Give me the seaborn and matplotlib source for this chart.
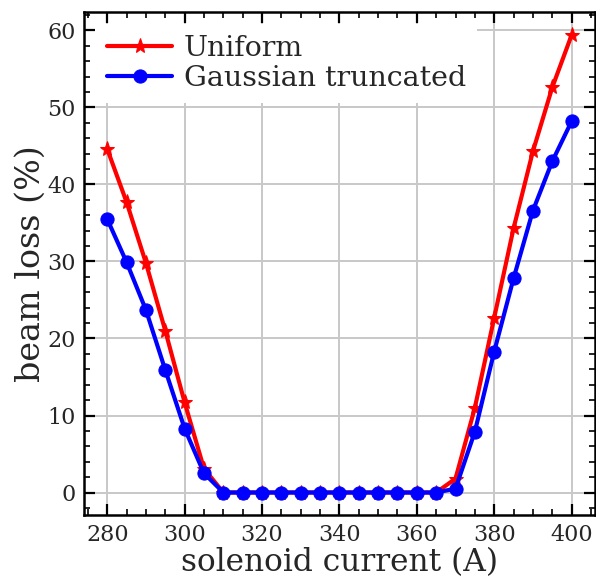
import matplotlib
matplotlib.use("Agg")
import matplotlib.pyplot as plt
from matplotlib.ticker import MultipleLocator
import seaborn as sns
import pandas as pd

current = [280, 285, 290, 295, 300, 305, 310, 315, 320, 325, 330, 335, 340,
           345, 350, 355, 360, 365, 370, 375, 380, 385, 390, 395, 400]
uniform = [44.6, 37.7, 29.8, 21.0, 11.7, 3.1, 0, 0, 0, 0, 0, 0, 0,
           0, 0, 0, 0, 0, 1.8, 11.0, 22.7, 34.3, 44.3, 52.6, 59.4]
gaussian = [35.5, 29.9, 23.7, 15.9, 8.3, 2.5, 0, 0, 0, 0, 0, 0, 0,
            0, 0, 0, 0, 0, 0.5, 7.9, 18.3, 27.8, 36.6, 43.0, 48.2]
labels = ["Uniform", "Gaussian truncated"]

sns.set_theme(style="whitegrid")
plt.rcParams["font.family"] = ["DejaVu Serif"]
plt.rcParams["mathtext.fontset"] = "dejavuserif"

df = pd.DataFrame({"current": current, labels[0]: uniform, labels[1]: gaussian})

fig = plt.figure(figsize=(5.96, 5.83), dpi=100)
ax = fig.add_axes([0.141, 0.116, 0.857, 0.863])

sns.lineplot(data=df, x="current", y=labels[0], ax=ax, color="#ff0000",
             marker="*", markersize=11, markeredgecolor="#ff0000",
             linewidth=3.0, label=labels[0], zorder=3)
sns.lineplot(data=df, x="current", y=labels[1], ax=ax, color="#0000ff",
             marker="o", markersize=9.5, markeredgecolor="#0000ff",
             linewidth=3.0, label=labels[1], zorder=3)

ax.set_facecolor("white")
ax.grid(True, color="#c8c8c8", linewidth=1.4)
for s in ax.spines.values():
    s.set_color("black")
    s.set_linewidth(1.8)

ax.xaxis.set_major_locator(MultipleLocator(20))
ax.xaxis.set_minor_locator(MultipleLocator(5))
ax.yaxis.set_major_locator(MultipleLocator(10))
ax.yaxis.set_minor_locator(MultipleLocator(2))
ax.tick_params(which="both", direction="in", top=True, right=True,
               bottom=True, left=True, color="black")
ax.tick_params(which="major", length=8, width=1.6, labelsize=16)
ax.tick_params(axis="x", which="major", pad=6)
ax.tick_params(axis="y", which="major", pad=6)
ax.tick_params(which="minor", length=4, width=1.2)

ax.set_xlabel("solenoid current (A)", fontsize=22.5, labelpad=1)
ax.set_ylabel("beam loss (%)", fontsize=24, labelpad=0)

leg = ax.legend(loc="upper left", fontsize=20.5, frameon=True, framealpha=1,
                edgecolor="none", facecolor="white", handlelength=2.3,
                handletextpad=0.4, borderaxespad=0.4, borderpad=0.4,
                labelspacing=0.1)

fig.savefig("out.png", dpi=100)
